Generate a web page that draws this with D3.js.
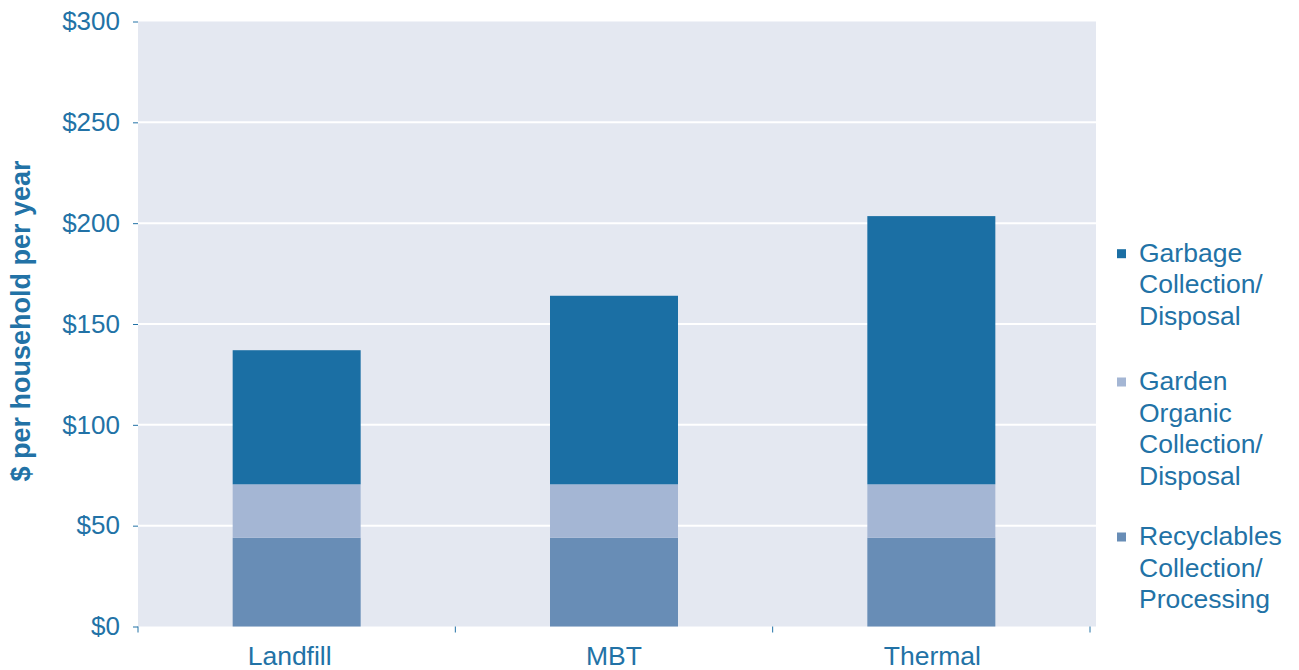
<!DOCTYPE html>
<html>
<head>
<meta charset="utf-8">
<script src="https://cdn.jsdelivr.net/npm/d3@7"></script>
<style>
  html, body { margin: 0; padding: 0; background: #ffffff; }
  svg { display: block; }
  text { font-family: "Liberation Sans", Arial, sans-serif; }
</style>
</head>
<body>
<svg id="chart" width="1299" height="670"></svg>
<script>
const categories = ["Landfill", "MBT", "Thermal"];
const recyclables = [44, 44, 44];
const garden = [26.5, 26.5, 26.5];
const garbage = [66.5, 93.5, 133];
const yTicks = [0, 50, 100, 150, 200, 250, 300];
const seriesKeys = ["recyclables", "garden", "garbage"];
const seriesColors = ["#688db6", "#a4b6d4", "#1b6fa4"];
const legendLabels = [
  ["Garbage", "Collection/", "Disposal"],
  ["Garden", "Organic", "Collection/", "Disposal"],
  ["Recyclables", "Collection/", "Processing"]
];
const legendColors = ["#1b6fa4", "#a4b6d4", "#688db6"];
const yTitle = "$ per household per year";

const textColor = "#2272a6";
const svg = d3.select("#chart");

const plotLeft = 138, plotRight = 1096, axisRight = 1090;
const y = d3.scaleLinear().domain([0, 300]).range([626.5, 21.5]);
const x = d3.scaleBand().domain(categories).range([plotLeft, axisRight]).padding(0);
const barW = 128;

const rows = categories.map((c, i) => ({
  cat: c, recyclables: recyclables[i], garden: garden[i], garbage: garbage[i]
}));
const stacked = d3.stack().keys(seriesKeys)(rows);

// background
svg.append("rect")
  .attr("x", plotLeft).attr("y", y(300))
  .attr("width", plotRight - plotLeft).attr("height", y(0) - y(300))
  .attr("fill", "#e4e8f1");

// gridlines
svg.append("g").selectAll("line")
  .data(yTicks.filter(d => d > 0 && d < 300))
  .join("line")
  .attr("x1", plotLeft).attr("x2", plotRight)
  .attr("y1", d => y(d)).attr("y2", d => y(d))
  .attr("stroke", "#ffffff").attr("stroke-width", 2);

// bars
stacked.forEach((s, si) => {
  svg.append("g").attr("fill", seriesColors[si])
    .selectAll("rect").data(s).join("rect")
    .attr("x", d => x(d.data.cat) + x.bandwidth() / 2 - barW / 2)
    .attr("width", barW)
    .attr("y", d => y(d[1]))
    .attr("height", d => y(d[0]) - y(d[1]));
});

// y axis
const yAxis = d3.axisLeft(y).tickValues(yTicks).tickSize(5).tickPadding(13)
  .tickFormat(d => "$" + d);
const gy = svg.append("g").attr("transform", `translate(${plotLeft},0)`).call(yAxis);
gy.select(".domain").remove();
gy.selectAll(".tick line").attr("stroke", textColor);
gy.selectAll(".tick text").attr("fill", textColor)
  .style("font-size", "26px").style("font-family", '"Liberation Sans", Arial, sans-serif');

// x axis ticks
const xAxisPts = d3.scaleLinear().domain([0, 3]).range([plotLeft, axisRight]);
svg.append("g").selectAll("line")
  .data(d3.range(4))
  .join("line")
  .attr("x1", d => xAxisPts(d)).attr("x2", d => xAxisPts(d))
  .attr("y1", y(0)).attr("y2", y(0) + 6)
  .attr("stroke", textColor).attr("stroke-width", 1);

// category labels
const labelShift = [-7, 0, 1];
svg.append("g").selectAll("text")
  .data(categories)
  .join("text")
  .attr("x", (d, i) => x(d) + x.bandwidth() / 2 + labelShift[i])
  .attr("y", 665)
  .attr("text-anchor", "middle")
  .attr("fill", textColor)
  .style("font-size", "26.5px")
  .text(d => d);

// y title
svg.append("text")
  .attr("transform", "translate(21,321) rotate(-90)")
  .attr("text-anchor", "middle")
  .attr("dominant-baseline", "central")
  .attr("fill", textColor)
  .style("font-size", "27px")
  .style("font-weight", "bold")
  .text(yTitle);

// legend
const lineH = 31.7;
const legendStarts = [261.7, 390, 545];
legendLabels.forEach((lines, i) => {
  const baseY = legendStarts[i];
  const g = svg.append("g");
  g.append("rect")
    .attr("x", 1117).attr("y", baseY - 12.5)
    .attr("width", 9).attr("height", 9)
    .attr("fill", legendColors[i]);
  lines.forEach((t, j) => {
    g.append("text")
      .attr("x", 1139).attr("y", baseY + j * lineH)
      .attr("fill", textColor)
      .style("font-size", "26.5px")
      .text(t);
  });
});
</script>
</body>
</html>
